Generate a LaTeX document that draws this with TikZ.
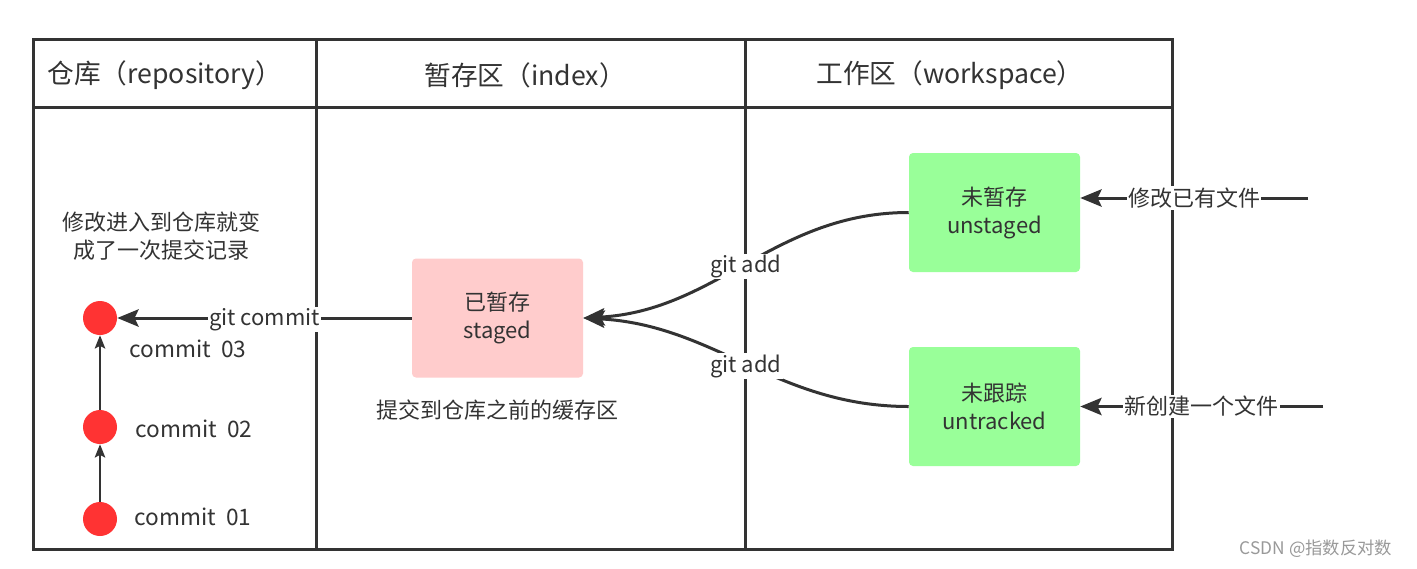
\documentclass[tikz,border=0pt]{standalone}
\usepackage{fontspec}
\setmainfont{Noto Sans CJK SC}
\usetikzlibrary{arrows.meta}
\definecolor{ln}{HTML}{333333}
\definecolor{txt}{HTML}{333333}
\definecolor{commitred}{HTML}{FF3333}
\definecolor{stagedpink}{HTML}{FFCCCC}
\definecolor{workgreen}{HTML}{99FF99}
\definecolor{wm}{HTML}{999999}
\tikzset{
  grid/.style={draw=ln, line width=2.25pt},
  hdr/.style={text=txt, font=\fontsize{20}{24}\selectfont},
  body/.style={text=txt, font=\fontsize{16.5}{21}\selectfont, align=center},
  statebox/.style={rounded corners=3pt, minimum width=128.25pt, minimum height=89.25pt, body},
  commitdot/.style={circle, fill=commitred, minimum size=25.5pt, inner sep=0pt},
  bigarrow/.style={draw=ln, line width=2.25pt, -{Stealth[length=16pt,width=13pt,inset=3pt]}},
  smallarrow/.style={draw=ln, line width=1.1pt, -{Stealth[length=10pt,width=8pt,inset=2pt]}},
  lbl/.style={body, fill=white, inner sep=1pt},
}
\begin{document}
\begin{tikzpicture}[x=0.75pt,y=-0.75pt]
\useasboundingbox (0,0) rectangle (1417,568);
\fill[white] (0,0) rectangle (1417,568);
% table
\draw[grid] (33,39) rectangle (1172,549);
\draw[grid] (33,107) -- (1172,107);
\draw[grid] (316,39) -- (316,549);
\draw[grid] (745,39) -- (745,549);
% headers
\node[hdr] (h1) at (165,75) {仓库（repository）};
\node[hdr] (h2) at (525,75) {暂存区（index）};
\node[hdr] (h3) at (950,75) {工作区（workspace）};
% repository
\node[body] (note1) at (161,236) {修改进入到仓库就变\\成了一次提交记录};
\node[commitdot] (c3) at (100,318) {};
\node[commitdot] (c2) at (100,427) {};
\node[commitdot] (c1) at (100,519) {};
\node[body, font=\fontsize{17}{21}\selectfont] (l3) at (188,349) {commit\ \ 03};
\node[body, font=\fontsize{17}{21}\selectfont] (l2) at (194,429) {commit\ \ 02};
\node[body, font=\fontsize{17}{21}\selectfont] (l1) at (193,517) {commit\ \ 01};
\draw[smallarrow] (c1) -- (c2);
\draw[smallarrow] (c2) -- (c3);
% index
\node[statebox, fill=stagedpink] (staged) at (497.5,318) {已暂存\\staged};
\node[body] (note2) at (497,410) {提交到仓库之前的缓存区};
% workspace
\node[statebox, fill=workgreen] (unstaged) at (994.5,212.5) {未暂存\\unstaged};
\node[statebox, fill=workgreen] (untracked) at (994.5,406.5) {未跟踪\\untracked};
% connectors
\draw[bigarrow] (staged.west) -- (c3.east) node[lbl, midway, yshift=-1pt] {git commit};
\draw[bigarrow] (unstaged.west) to[out=180, in=3] node[lbl, midway, yshift=-3pt] {git add} (staged.east);
\draw[bigarrow] (untracked.west) to[out=180, in=-3] node[lbl, midway, yshift=-1pt] {git add} (staged.east);
\coordinate (s1) at (1308,198);
\coordinate (s2) at (1323,406.5);
\draw[bigarrow] (s1) -- (s1 -| unstaged.east) node[lbl, midway] {修改已有文件};
\draw[bigarrow] (s2) -- (untracked.east) node[lbl, midway] {新创建一个文件};
% watermark
\node[text=wm, font=\fontsize{13}{15}\selectfont] (wmk) at (1316,549) {CSDN @指数反对数};
\end{tikzpicture}
\end{document}
